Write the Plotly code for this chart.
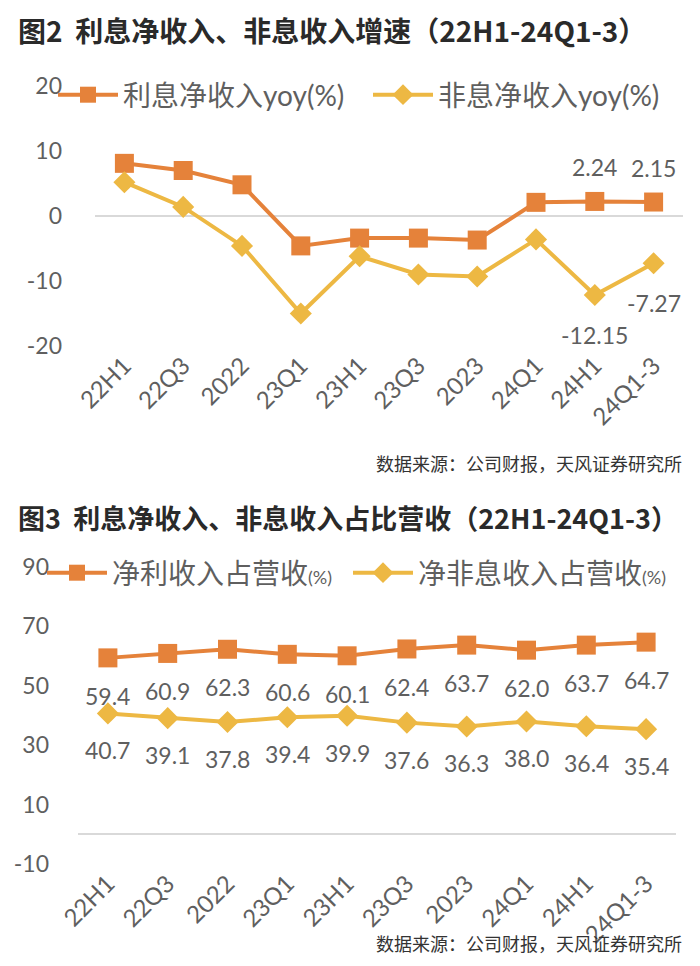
import plotly.graph_objects as go

W, H = 700, 966

categories = ["22H1", "22Q3", "2022", "23Q1", "23H1", "23Q3", "2023", "24Q1", "24H1", "24Q1-3"]

# Chart 1: growth (%)
nii_yoy = [8.1, 7.0, 4.8, -4.6, -3.4, -3.4, -3.7, 2.1, 2.24, 2.15]
non_nii_yoy = [5.2, 1.4, -4.6, -15.0, -6.2, -9.0, -9.3, -3.6, -12.15, -7.27]
c1_labels_idx = [8, 9]

# Chart 2: share of revenue (%)
nii_share = [59.4, 60.9, 62.3, 60.6, 60.1, 62.4, 63.7, 62.0, 63.7, 64.7]
non_nii_share = [40.7, 39.1, 37.8, 39.4, 39.9, 37.6, 36.3, 38.0, 36.4, 35.4]

y1_ticks = [20, 10, 0, -10, -20]
y2_ticks = [90, 70, 50, 30, 10, -10]

title1 = "图2  利息净收入、非息收入增速（22H1-24Q1-3）"
title2 = "图3  利息净收入、非息收入占比营收（22H1-24Q1-3）"
source = "数据来源：公司财报，天风证券研究所"

ORANGE = "#E5823A"
YELLOW = "#EDB843"
GRAY = "#5f5f5f"
FONT = "Lato, Noto Sans CJK SC, sans-serif"
CJK = "Noto Sans CJK SC, sans-serif"


def px_x(p):
    return p / W


def px_y(p):
    return 1 - p / H


fig = go.Figure()

fig.add_trace(go.Scatter(x=categories, y=nii_yoy, mode="lines+markers", name="利息净收入yoy(%)",
                         line=dict(color=ORANGE, width=4), marker=dict(symbol="square", size=19, color=ORANGE),
                         xaxis="x", yaxis="y", legend="legend"))
fig.add_trace(go.Scatter(x=categories, y=non_nii_yoy, mode="lines+markers", name="非息净收入yoy(%)",
                         line=dict(color=YELLOW, width=4), marker=dict(symbol="diamond", size=17, color=YELLOW),
                         xaxis="x", yaxis="y", legend="legend2"))

small = "<span style='font-size:18px'>(%)</span>"
fig.add_trace(go.Scatter(x=categories, y=nii_share, mode="lines+markers", name="净利收入占营收" + small,
                         line=dict(color=ORANGE, width=4), marker=dict(symbol="square", size=19, color=ORANGE),
                         xaxis="x2", yaxis="y2", legend="legend3"))
fig.add_trace(go.Scatter(x=categories, y=non_nii_share, mode="lines+markers", name="净非息收入占营收" + small,
                         line=dict(color=YELLOW, width=4), marker=dict(symbol="diamond", size=17, color=YELLOW),
                         xaxis="x2", yaxis="y2", legend="legend4"))

annotations = []
lab_font = dict(family=FONT, size=23, color=GRAY)
for i in c1_labels_idx:
    annotations.append(dict(x=i, y=nii_yoy[i], xref="x", yref="y", text=f"{nii_yoy[i]:.2f}",
                            showarrow=False, yshift=34, yanchor="middle", font=lab_font))
    annotations.append(dict(x=i, y=non_nii_yoy[i], xref="x", yref="y", text=f"{non_nii_yoy[i]:.2f}",
                            showarrow=False, yshift=-40, yanchor="middle", font=lab_font))
for i, v in enumerate(nii_share):
    annotations.append(dict(x=i, y=v, xref="x2", yref="y2", text=f"{v:.1f}", showarrow=False,
                            yshift=-38, yanchor="middle", font=lab_font))
for i, v in enumerate(non_nii_share):
    annotations.append(dict(x=i, y=v, xref="x2", yref="y2", text=f"{v:.1f}", showarrow=False,
                            yshift=-37, yanchor="middle", font=lab_font))

annotations.append(dict(x=px_x(16), y=px_y(30), xref="paper", yref="paper", xanchor="left", yanchor="middle",
                        text="<b>" + title1 + "</b>", showarrow=False, font=dict(family=CJK, size=28, color="#2a2a2a")))
annotations.append(dict(x=px_x(16), y=px_y(517), xref="paper", yref="paper", xanchor="left", yanchor="middle",
                        text="<b>" + title2 + "</b>", showarrow=False, font=dict(family=CJK, size=27, color="#2a2a2a")))
for yy in (463, 943):
    annotations.append(dict(x=px_x(684), y=px_y(yy), xref="paper", yref="paper", xanchor="right", yanchor="middle",
                            text=source, showarrow=False, font=dict(family=CJK, size=18, color="#333333")))

xcommon = dict(type="category", showgrid=False, zeroline=False, showline=False, ticks="", automargin=False,
               tickangle=-45, tickfont=dict(family=FONT, size=24, color=GRAY), range=[-0.5, 9.5])
ycommon = dict(showgrid=False, zeroline=True, zerolinecolor="#d9d9d9", zerolinewidth=2,
               showline=False, ticks="", automargin=False,
               tickfont=dict(family=FONT, size=23, color=GRAY))


def leg(xpx, ypx):
    return dict(orientation="h", x=px_x(xpx), y=px_y(ypx), xanchor="left", yanchor="middle",
                bgcolor="rgba(0,0,0,0)", itemwidth=60,
                font=dict(family=FONT, size=28, color=GRAY))


fig.update_layout(
    width=W, height=H, margin=dict(l=0, r=0, t=0, b=0, autoexpand=False),
    paper_bgcolor="white", plot_bgcolor="white",
    font=dict(family=FONT, color=GRAY),
    showlegend=True,
    xaxis=dict(domain=[px_x(95), px_x(683)], anchor="y", **xcommon),
    yaxis=dict(domain=[px_y(346), px_y(86)], anchor="x", range=[-20, 20], tickvals=y1_ticks,
               ticktext=[str(v) for v in y1_ticks], ticklabelstandoff=32, **ycommon),
    xaxis2=dict(domain=[px_x(78), px_x(676)], anchor="y2", **xcommon),
    yaxis2=dict(domain=[px_y(864), px_y(567)], anchor="x2", range=[-10, 90], tickvals=y2_ticks,
                ticktext=[str(v) for v in y2_ticks], ticklabelstandoff=28, **ycommon),
    legend=leg(53, 95),
    legend2=leg(368, 95),
    legend3=leg(42, 573),
    legend4=leg(348, 573),
    annotations=annotations,
)

fig.write_html("out.html", config={"displayModeBar": False},
               post_script="document.body.style.margin='0';document.body.style.padding='0';")
